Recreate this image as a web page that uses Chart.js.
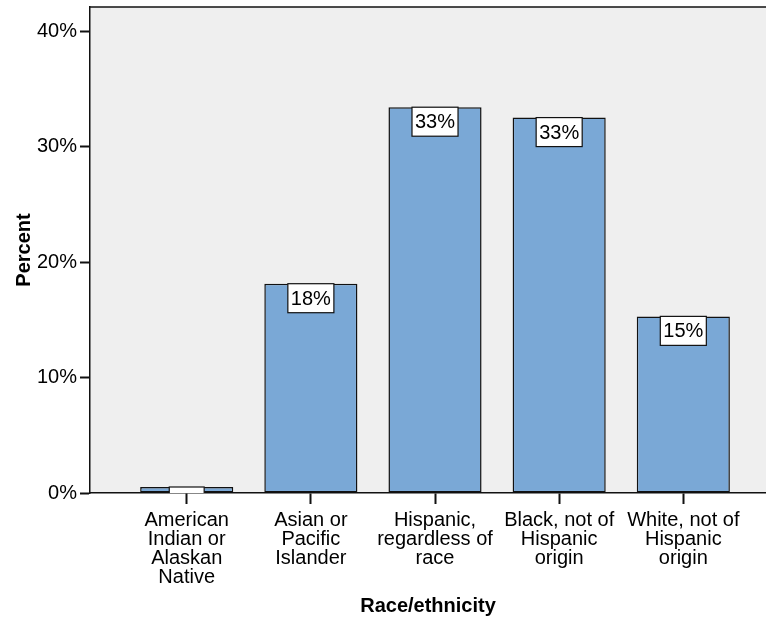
<!DOCTYPE html>
<html>
<head>
<meta charset="utf-8">
<script src="https://cdn.jsdelivr.net/npm/chart.js@4/dist/chart.umd.min.js"></script>
<style>
  html, body { margin: 0; padding: 0; background: #ffffff; overflow: hidden; }
  #wrap { width: 766px; height: 622px; position: relative; }
</style>
</head>
<body>
<div id="wrap"><canvas id="c" width="766" height="622"></canvas></div>
<script>
const categories = [
  ["American", "Indian or", "Alaskan", "Native"],
  ["Asian or", "Pacific", "Islander"],
  ["Hispanic,", "regardless of", "race"],
  ["Black, not of", "Hispanic", "origin"],
  ["White, not of", "Hispanic", "origin"]
];
const percentValues = [0.52, 18.13, 33.42, 32.52, 15.30];
const yTickValues = [0, 10, 20, 30, 40];
const xTitle = "Race/ethnicity";
const yTitle = "Percent";

const FONT = "'Liberation Sans', Arial, sans-serif";
const FS = 20;
const categoryIndex = categories.map((_, i) => i);

const plotBg = {
  id: 'plotBg',
  beforeDraw(chart) {
    const { ctx, chartArea: a } = chart;
    ctx.save();
    ctx.fillStyle = '#efefef';
    ctx.fillRect(a.left, a.top, a.right - a.left, a.bottom - a.top);
    ctx.restore();
  },
  afterDraw(chart) {
    const { ctx, chartArea: a } = chart;
    ctx.save();
    ctx.strokeStyle = '#111111';
    ctx.lineWidth = 1.5;
    ctx.beginPath();
    ctx.moveTo(a.left, a.top);
    ctx.lineTo(chart.width, a.top);
    ctx.stroke();
    ctx.restore();
  }
};

const barLabels = {
  id: 'barLabels',
  afterDatasetsDraw(chart) {
    const { ctx, chartArea: a } = chart;
    const meta = chart.getDatasetMeta(0);
    ctx.save();
    ctx.beginPath();
    ctx.rect(a.left, a.top, a.right - a.left, a.bottom - a.top);
    ctx.clip();
    ctx.font = FS + 'px ' + FONT;
    ctx.textAlign = 'center';
    ctx.textBaseline = 'middle';
    meta.data.forEach((bar, i) => {
      const txt = Math.round(percentValues[i]) + '%';
      const w = ctx.measureText(txt).width + 6;
      const h = 29;
      const x = bar.x - w / 2;
      const y = bar.y;
      ctx.fillStyle = '#ffffff';
      ctx.fillRect(x, y, w, h);
      ctx.strokeStyle = '#111111';
      ctx.lineWidth = 1.2;
      ctx.strokeRect(x, y, w, h);
      ctx.fillStyle = '#000000';
      ctx.fillText(txt, bar.x, y + h / 2 + 1);
    });
    ctx.restore();
  }
};

new Chart(document.getElementById('c'), {
  type: 'bar',
  data: {
    datasets: [{
      data: categoryIndex.map(i => ({ x: i, y: percentValues[i] })),
      backgroundColor: '#7aa8d6',
      borderColor: '#111111',
      borderWidth: 1.5,
      borderSkipped: false,
      categoryPercentage: 0.75,
      barPercentage: 1.0
    }]
  },
  options: {
    responsive: false,
    animation: false,
    devicePixelRatio: 1,
    layout: { padding: { top: 7, right: 0, left: 0, bottom: 0 } },
    plugins: { legend: { display: false }, tooltip: { enabled: false } },
    scales: {
      x: {
        type: 'linear',
        offset: false,
        min: -0.779,
        max: 4.666,
        afterBuildTicks(scale) { scale.ticks = categoryIndex.map(v => ({ value: v })); },
        afterFit(scale) { scale.height = 129; scale.paddingLeft = 0; scale.paddingRight = 0; },
        ticks: {
          autoSkip: false,
          maxRotation: 0,
          minRotation: 0,
          padding: 7,
          color: '#000000',
          font: { family: FONT, size: FS, lineHeight: 0.95 },
          callback: (v) => categories[v] || ''
        },
        grid: { offset: false, drawOnChartArea: false, drawTicks: true, tickLength: 11, tickColor: '#111111', tickWidth: 2 },
        border: { display: true, color: '#111111', width: 1.5 },
        title: {
          display: true,
          text: xTitle,
          color: '#000000',
          font: { family: FONT, size: FS, weight: 'bold' },
          padding: { top: 10, bottom: 4 }
        }
      },
      y: {
        type: 'linear',
        min: 0,
        max: 42.1,
        afterBuildTicks(scale) { scale.ticks = yTickValues.map(v => ({ value: v })); },
        afterFit(scale) { scale.width = 90; scale.paddingTop = 0; scale.paddingBottom = 0; },
        ticks: {
          padding: 3,
          color: '#000000',
          font: { family: FONT, size: FS },
          callback: (v) => v + '%'
        },
        grid: { drawOnChartArea: false, drawTicks: true, tickLength: 10, tickColor: '#111111', tickWidth: 2 },
        border: { display: true, color: '#111111', width: 1.5 },
        title: {
          display: true,
          text: yTitle,
          color: '#000000',
          font: { family: FONT, size: FS, weight: 'bold' },
          padding: { top: 12, bottom: 0 }
        }
      }
    }
  },
  plugins: [plotBg, barLabels]
});
</script>
</body>
</html>
